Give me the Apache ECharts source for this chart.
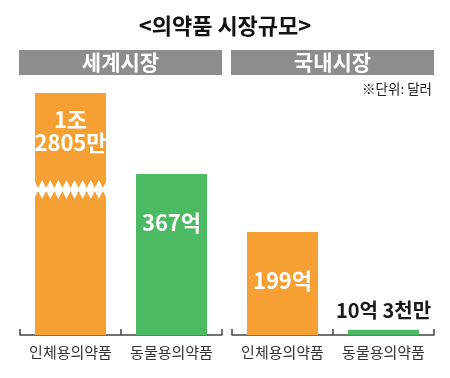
<!DOCTYPE html>
<html><head><meta charset="utf-8">
<script src="https://cdn.jsdelivr.net/npm/echarts@6/dist/echarts.min.js"></script>
<style>html,body{margin:0;padding:0;background:#fff}#c{width:450px;height:378px}</style>
</head><body><div id="c"></div>
<script>
// Data (values in 억 달러)
const categories = ['인체용의약품', '동물용의약품'];
const worldValues = [10000.2805, 367];
const domesticValues = [199, 10.3];
const worldLabels = ['1조\n2805만', '367억'];
const domesticLabels = ['199억', '10억 3천만'];
const panelTitles = ['세계시장', '국내시장'];
const chartTitle = '<의약품 시장규모>';
const unitNote = '※단위: 달러';

const ORANGE = '#F6A033', GREEN = '#4CB963', GRAY = '#8D8D8D';
const FONT = '"Noto Sans CJK KR", "Noto Sans", sans-serif';
const colors = [ORANGE, GREEN];

const chart = echarts.init(document.getElementById('c'));

function xAx(gi) {
  return {
    type: 'category', gridIndex: gi, data: categories,
    axisLine: {lineStyle: {color: '#444', width: 1.5}},
    axisTick: {show: true, inside: true, length: 6, lineStyle: {color: '#444', width: 1.5}},
    axisLabel: {interval: 0, color: '#333', fontSize: 15, fontFamily: FONT, margin: 10}
  };
}
function yAx(gi, max) {
  return {type: 'value', gridIndex: gi, min: 0, max: max, show: false, splitLine: {show: false}};
}

const worldLabelStyles = [
  {position: 'insideTop', distance: 15, color: '#fff', fontSize: 22, lineHeight: 23, fontWeight: 'bold', fontFamily: FONT},
  {position: 'insideTop', distance: 38, color: '#fff', fontSize: 22, fontWeight: 'bold', fontFamily: FONT}
];
const domesticLabelStyles = [
  {position: 'inside', offset: [0, -3], color: '#fff', fontSize: 22, fontWeight: 'bold', fontFamily: FONT},
  {position: 'top', distance: 9, color: '#1a1a1a', fontSize: 20, fontWeight: 'bold', fontFamily: FONT}
];

chart.setOption({
  animation: false,
  title: {text: chartTitle, left: 'center', top: 10, textStyle: {fontSize: 22, fontWeight: 'bold', color: '#111', fontFamily: FONT}},
  grid: [
    {left: 20, width: 202, top: 93, bottom: 43},
    {left: 232, width: 202, top: 93, bottom: 43}
  ],
  xAxis: [xAx(0), xAx(1)],
  yAxis: [yAx(0, 552), yAx(1, 468)],
  graphic: [
    {type: 'rect', left: 19, top: 50, shape: {width: 203, height: 25}, style: {fill: GRAY}},
    {type: 'rect', left: 231, top: 50, shape: {width: 203, height: 25}, style: {fill: GRAY}},
    {type: 'text', x: 120.5, y: 62.5, style: {text: panelTitles[0], fill: '#fff', font: 'bold 21px ' + FONT, align: 'center', verticalAlign: 'middle'}},
    {type: 'text', x: 332.5, y: 62.5, style: {text: panelTitles[1], fill: '#fff', font: 'bold 21px ' + FONT, align: 'center', verticalAlign: 'middle'}},
    {type: 'text', x: 432, y: 89, style: {text: unitNote, fill: '#222', font: '13.5px ' + FONT, align: 'right', verticalAlign: 'middle'}}
  ],
  series: [
    {
      type: 'bar', xAxisIndex: 0, yAxisIndex: 0, barWidth: 71, clip: true,
      data: worldValues.map((v, i) => ({value: v, itemStyle: {color: colors[i]},
        label: Object.assign({show: true, formatter: worldLabels[i]}, worldLabelStyles[i])}))
    },
    {
      type: 'bar', xAxisIndex: 1, yAxisIndex: 1, barWidth: 71, clip: true,
      data: domesticValues.map((v, i) => ({value: v, itemStyle: {color: colors[i]},
        label: Object.assign({show: true, formatter: domesticLabels[i]}, domesticLabelStyles[i])}))
    }
  ]
});

// Broken-bar zigzag on the clipped world bar
const layout = chart.getModel().getSeriesByIndex(0).getData().getItemLayout(0);
const yc = chart.convertToPixel({yAxisIndex: 0}, 332);
const n = 9;
const x0 = Math.min(layout.x, layout.x + layout.width) - 1;
const w = Math.abs(layout.width) + 2;
const p = w / n;
const pts = [];
for (let i = 0; i <= n; i++) {
  pts.push([x0 + i * p, yc - 9.5]);
  if (i < n) pts.push([x0 + (i + 0.5) * p, yc - 1.5]);
}
for (let i = n; i >= 0; i--) {
  pts.push([x0 + i * p, yc + 9.5]);
  if (i > 0) pts.push([x0 + (i - 0.5) * p, yc + 1.5]);
}
chart.setOption({graphic: [{type: 'polygon', id: 'zig', z: 100, shape: {points: pts}, style: {fill: '#fff'}}]});
</script></body></html>
